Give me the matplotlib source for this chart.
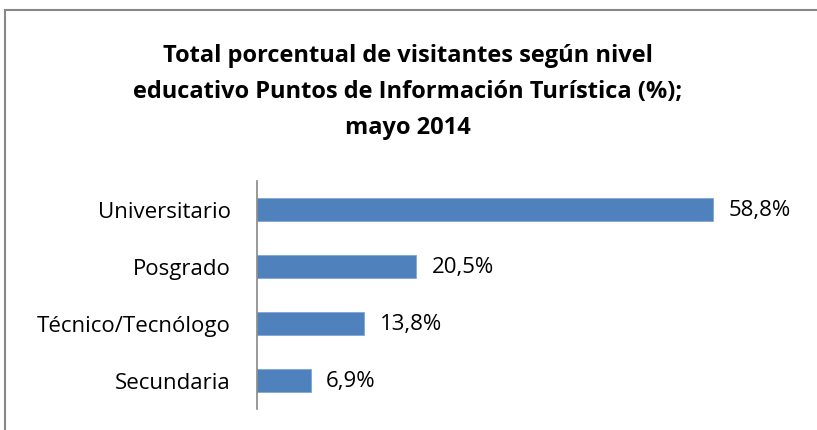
import matplotlib.pyplot as plt
from matplotlib.patches import Rectangle

categorias = ['Universitario', 'Posgrado', 'Técnico/Tecnólogo', 'Secundaria']
valores = [58.8, 20.5, 13.8, 6.9]
etiquetas = ['58,8%', '20,5%', '13,8%', '6,9%']

plt.rcParams['font.family'] = ['Open Sans', 'DejaVu Sans']

fig = plt.figure(figsize=(8.17, 4.31), dpi=100)
W, H = 817, 431
# ejes: x de 257 a 800 px, y de 182 a 410 px
ax = fig.add_axes([257 / W, 1 - 410 / H, 543 / W, 228 / H])

pos = list(range(len(categorias)))
ax.barh(pos, valores, height=0.4, color='#4F81BD', edgecolor='#7FA6D6', linewidth=0.6)
ax.set_xlim(0, 70)
ax.set_ylim(len(categorias) - 0.5, -0.5)
ax.set_yticks(pos)
ax.set_yticklabels(categorias, fontsize=16)
ax.tick_params(axis='y', length=0, pad=19)
ax.set_xticks([])
for s in ['top', 'right', 'bottom']:
    ax.spines[s].set_visible(False)
ax.spines['left'].set_color('#888888')
ax.spines['left'].set_linewidth(1.2)

for p, v, t in zip(pos, valores, etiquetas):
    ax.text(v + 2.0, p, t, va='center', ha='left', fontsize=16)

fig.text(408 / W, 1 - 92 / H,
         'Total porcentual de visitantes según nivel\n'
         'educativo Puntos de Información Turística (%);\n'
         'mayo 2014',
         ha='center', va='center', fontsize=17, fontweight='bold',
         linespacing=1.68)

fig.patches.append(Rectangle((5 / W, -0.1), 1.2, 1 - 11 / H + 0.1,
                             transform=fig.transFigure, fill=False,
                             edgecolor='#888888', linewidth=1.5))

fig.savefig('out.png', dpi=100)
